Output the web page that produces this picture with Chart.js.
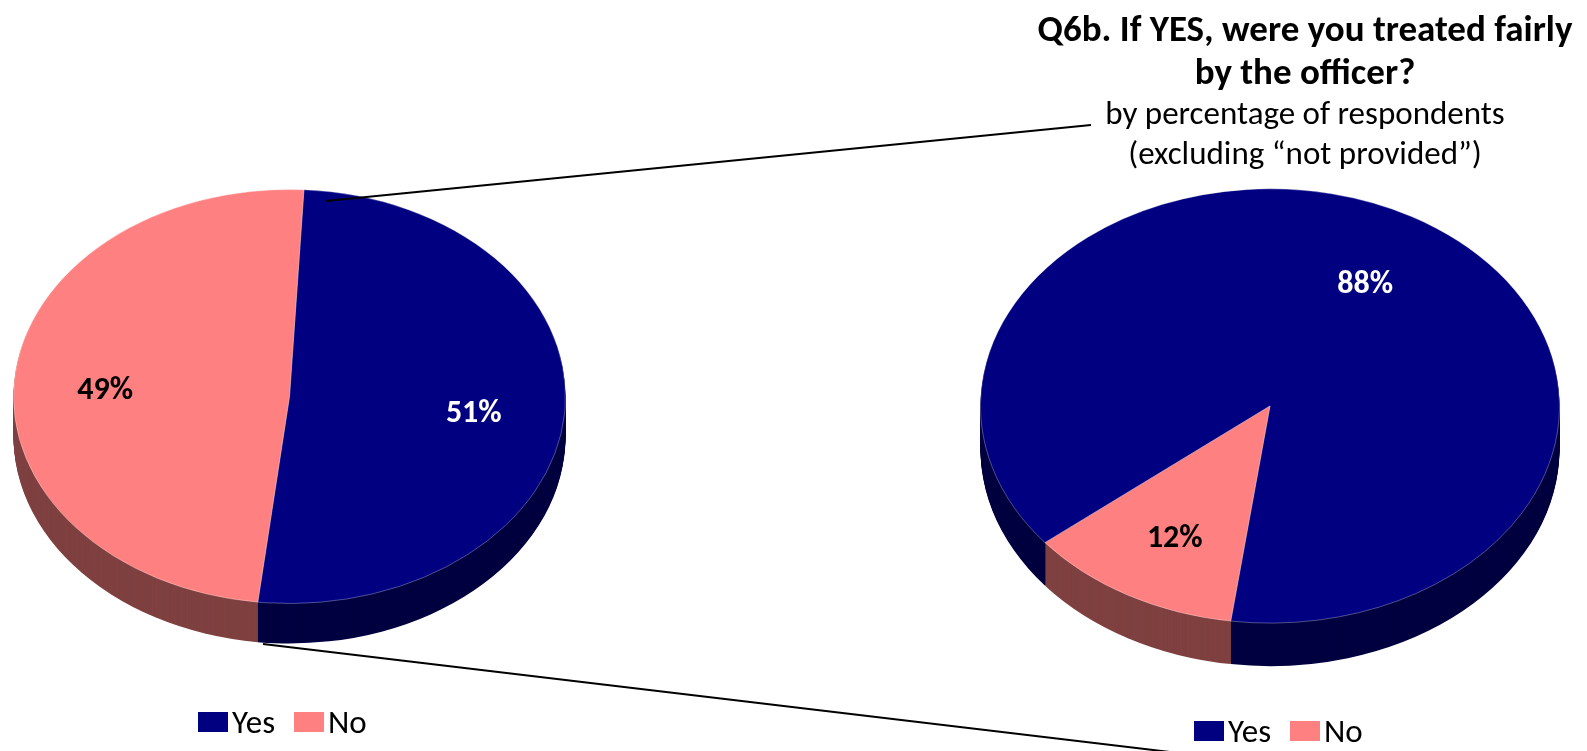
<!DOCTYPE html>
<html>
<head>
<meta charset="utf-8">
<script src="https://cdn.jsdelivr.net/npm/chart.js@4.4.0/dist/chart.umd.min.js"></script>
<style>
  body {
    margin: 0;
    width: 1587px;
    height: 751px;
    position: relative;
    overflow: hidden;
    background: #fff;
    font-family: Calibri, Carlito, Lato, sans-serif;
    color: #000;
  }
  canvas { position: absolute; }
  #leftPie { left: 13px; top: 120px; }
  #rightPie { left: 980px; top: 116px; }
  #links { left: 0; top: 0; pointer-events: none; }
  .title {
    position: absolute;
    left: 1005px;
    width: 600px;
    text-align: center;
    white-space: nowrap;
  }
  #heading { top: 7px; font-weight: bold; font-size: 37px; line-height: 43px; }
  #subheading { top: 93px; font-size: 33px; line-height: 40px; }
  .legend {
    position: absolute;
    display: flex;
    align-items: center;
    font-size: 33px;
    line-height: 34px;
  }
  .legend .box { width: 30px; height: 20px; margin-right: 4px; }
  .legend .item { display: flex; align-items: center; margin-right: 19px; }
</style>
</head>
<body>
<canvas id="leftPie" width="553" height="553"></canvas>
<canvas id="rightPie" width="580" height="580"></canvas>
<canvas id="links" width="1587" height="751"></canvas>

<div class="title" id="heading">Q6b. If YES, were you treated fairly<br>by the officer?</div>
<div class="title" id="subheading">by percentage of respondents<br>(excluding “not provided”)</div>

<div class="legend" id="leftLegend" style="left:198px; top:705px;"></div>
<div class="legend" id="rightLegend" style="left:1194px; top:714px;"></div>

<script>
const answers = ["Yes", "No"];
const stoppedShares = [51, 49];
const fairShares = [88, 12];

const faceColors = ["#000080", "#FF8080"];
const wallColors = ["#000040", "#7F4040"];
const labelColors = ["#FFFFFF", "#000000"];

// Chart.js draws a flat pie; this squashes it into an ellipse, extrudes
// the rim downward and writes the percentages on the slices.
const tiltedPie = {
  id: "tiltedPie",
  beforeDatasetsDraw(chart, args, opts) {
    const ctx = chart.ctx;
    const arcs = chart.getDatasetMeta(0).data;
    const cx = arcs[0].x;
    const cy = arcs[0].y;
    for (let d = opts.depth; d >= 1; d--) {
      ctx.save();
      ctx.translate(cx, cy + d);
      ctx.scale(1, opts.squash);
      arcs.forEach((arc, i) => {
        ctx.beginPath();
        ctx.moveTo(0, 0);
        ctx.arc(0, 0, arc.outerRadius, arc.startAngle, arc.endAngle);
        ctx.closePath();
        ctx.fillStyle = wallColors[i];
        ctx.fill();
      });
      ctx.restore();
    }
    ctx.save();
    ctx.translate(cx, cy);
    ctx.scale(1, opts.squash);
    ctx.translate(-cx, -cy);
  },
  afterDatasetsDraw(chart, args, opts) {
    const ctx = chart.ctx;
    ctx.restore();
    const arcs = chart.getDatasetMeta(0).data;
    const values = chart.data.datasets[0].data;
    ctx.save();
    ctx.font = "bold 32px Calibri, Carlito, Lato, sans-serif";
    ctx.textAlign = "center";
    ctx.textBaseline = "middle";
    arcs.forEach((arc, i) => {
      const mid = (arc.startAngle + arc.endAngle) / 2;
      const r = arc.outerRadius * opts.labelRadius;
      const x = arc.x + r * Math.cos(mid);
      const y = arc.y + r * Math.sin(mid) * opts.squash + 6;
      ctx.fillStyle = labelColors[i];
      ctx.fillText(values[i] + "%", x, y);
    });
    ctx.restore();
  },
};

function makePie(id, shares, rotation, depth) {
  return new Chart(document.getElementById(id), {
    type: "pie",
    data: {
      labels: answers,
      datasets: [
        {
          data: shares,
          backgroundColor: faceColors,
          borderColor: "rgba(255,255,255,0.35)",
          borderWidth: 1,
        },
      ],
    },
    options: {
      responsive: false,
      animation: false,
      events: [],
      rotation: rotation,
      layout: { padding: 0 },
      plugins: {
        legend: { display: false },
        tooltip: { enabled: false },
        tiltedPie: { squash: 0.75, depth: depth, labelRadius: 0.67 },
      },
    },
    plugins: [tiltedPie],
  });
}

const leftChart = makePie("leftPie", stoppedShares, 3, 40);
const rightChart = makePie("rightPie", fairShares, 231, 43);

// legends under each pie
["leftLegend", "rightLegend"].forEach((id) => {
  const box = document.getElementById(id);
  answers.forEach((name, i) => {
    const item = document.createElement("div");
    item.className = "item";
    item.innerHTML = '<div class="box" style="background:' + faceColors[i] + '"></div><span>' + name + "</span>";
    box.appendChild(item);
  });
});

// connector lines between the two pies
const links = document.getElementById("links").getContext("2d");
links.strokeStyle = "#000";
links.lineWidth = 2;
links.beginPath();
links.moveTo(326, 201);
links.lineTo(1091, 125);
links.moveTo(263, 644);
links.lineTo(1170, 752);
links.stroke();
</script>
</body>
</html>
